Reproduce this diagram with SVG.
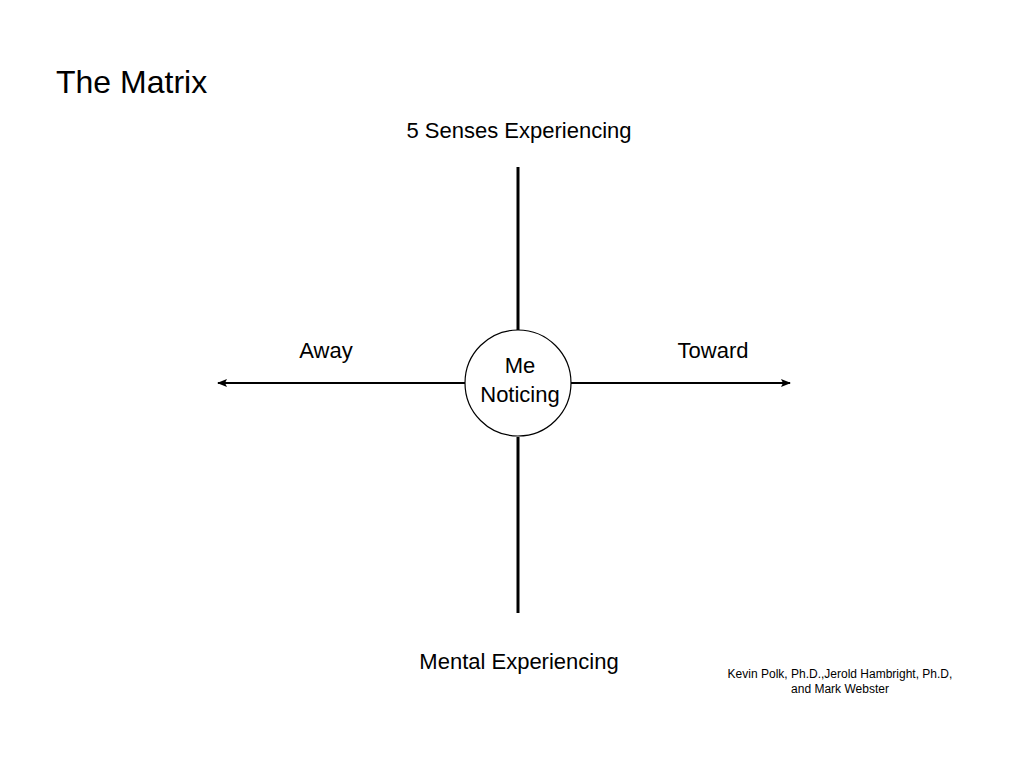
<svg xmlns="http://www.w3.org/2000/svg" width="1024" height="768" viewBox="0 0 1024 768">
<style>
text{font-family:"Liberation Sans","DejaVu Sans",sans-serif;fill:#000}
.l{font-size:22px;text-anchor:middle}
.c{stroke:#000;fill:none}
</style>
<defs>
<marker id="ah" viewBox="0 0 10 10" refX="9" refY="5" markerWidth="10" markerHeight="10" markerUnits="userSpaceOnUse" orient="auto-start-reverse">
<path d="M0,1 L10,5 L0,9 L2,5 Z" fill="#000"/>
</marker>
</defs>
<rect width="1024" height="768" fill="#fff"/>
<text x="56" y="93" font-size="32">The Matrix</text>
<g id="connectors">
<line class="c" x1="518" y1="167" x2="518" y2="330" stroke-width="3"/>
<line class="c" x1="518" y1="437" x2="518" y2="613" stroke-width="3"/>
<line class="c" x1="465" y1="383" x2="218" y2="383" stroke-width="2" marker-end="url(#ah)"/>
<line class="c" x1="571" y1="383" x2="790" y2="383" stroke-width="2" marker-end="url(#ah)"/>
</g>
<g id="center">
<circle cx="518" cy="383" r="53" fill="#fff" stroke="#000" stroke-width="1.2"/>
<text class="l" x="520" y="373">Me</text>
<text class="l" x="520" y="402">Noticing</text>
</g>
<g id="top"><text class="l" x="519" y="138">5 Senses Experiencing</text></g>
<g id="bottom"><text class="l" x="519" y="669">Mental Experiencing</text></g>
<g id="away"><text class="l" x="326" y="358">Away</text></g>
<g id="toward"><text class="l" x="713" y="358">Toward</text></g>
<g id="credit">
<text x="840" y="678" font-size="12" text-anchor="middle">Kevin Polk, Ph.D.,Jerold Hambright, Ph.D,</text>
<text x="840" y="693" font-size="12" text-anchor="middle">and Mark Webster</text>
</g>
</svg>
